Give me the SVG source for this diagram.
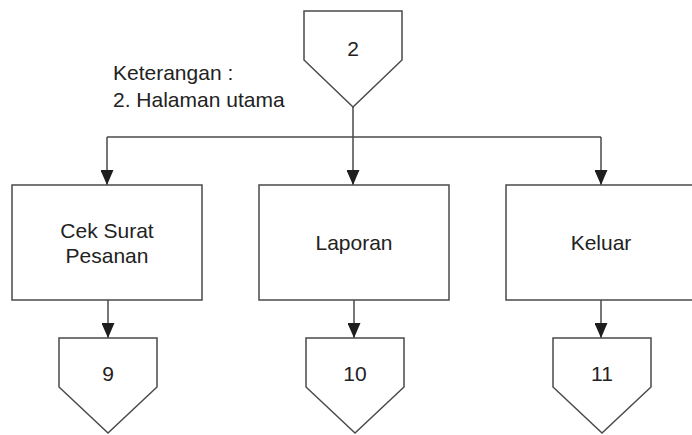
<svg xmlns="http://www.w3.org/2000/svg" width="692" height="435" viewBox="0 0 692 435">
<style>
.shape{fill:#fff;stroke:#4a4a4a;stroke-width:1.5}
.txt{font-family:"Liberation Sans",Arial,sans-serif;font-size:21px;fill:#222;text-anchor:middle}
.note{font-family:"Liberation Sans",Arial,sans-serif;font-size:21px;fill:#222}
.conn{fill:none;stroke:#4a4a4a;stroke-width:1.5}
</style>
<defs>
<marker id="arr" markerWidth="15" markerHeight="13" refX="15" refY="6.5" orient="auto" markerUnits="userSpaceOnUse" viewBox="0 0 15 13">
<path d="M0,0 L15,6.5 L0,13 Z" fill="#1e1e1e"/>
</marker>
</defs>
<rect width="692" height="435" fill="#fff"/>
<g id="note">
<text class="note" x="113" y="80">Keterangan :</text>
<text class="note" x="113" y="107">2. Halaman utama</text>
</g>
<g id="node-2">
<polygon class="shape" points="304,11 402,11 402,60 353,107 304,60"/>
<text class="txt" x="353" y="56">2</text>
</g>
<g id="connectors">
<path class="conn" d="M353,107 V137"/>
<path class="conn" d="M107,137 H601"/>
<path class="conn" d="M107,137 V185" marker-end="url(#arr)"/>
<path class="conn" d="M353,137 V185" marker-end="url(#arr)"/>
<path class="conn" d="M601,137 V185" marker-end="url(#arr)"/>
<path class="conn" d="M108,300 V338" marker-end="url(#arr)"/>
<path class="conn" d="M354,300 V338" marker-end="url(#arr)"/>
<path class="conn" d="M601,300 V338" marker-end="url(#arr)"/>
</g>
<g id="box-cek">
<rect class="shape" x="12" y="185" width="190" height="115"/>
<text class="txt" x="107" y="238">Cek Surat</text>
<text class="txt" x="107" y="263">Pesanan</text>
</g>
<g id="box-laporan">
<rect class="shape" x="259" y="185" width="190" height="115"/>
<text class="txt" x="354" y="250">Laporan</text>
</g>
<g id="box-keluar">
<rect class="shape" x="506" y="185" width="192" height="115"/>
<text class="txt" x="601" y="250">Keluar</text>
</g>
<g id="node-9">
<polygon class="shape" points="59,338 157,338 157,387 108,433 59,387"/>
<text class="txt" x="108" y="381">9</text>
</g>
<g id="node-10">
<polygon class="shape" points="306,338 404,338 404,387 355,433 306,387"/>
<text class="txt" x="355" y="381">10</text>
</g>
<g id="node-11">
<polygon class="shape" points="553,338 651,338 651,387 602,433 553,387"/>
<text class="txt" x="602" y="381">11</text>
</g>
</svg>
